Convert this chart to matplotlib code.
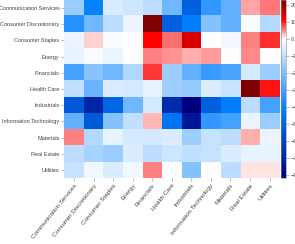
import numpy as np
import matplotlib
matplotlib.use("Agg")
import matplotlib.pyplot as plt
from matplotlib.colors import LinearSegmentedColormap, Normalize

plt.rcParams['font.family'] = ['Liberation Sans', 'DejaVu Sans']

sectors = ["Communication Services", "Consumer Discretionary", "Consumer Staples",
           "Energy", "Financials", "Health Care", "Industrials",
           "Information Technology", "Materials", "Real Estate", "Utilities"]

# one row per sector (rows top to bottom, columns left to right)
row_comm = [-16, -40, -6, -8, -11, -23, -51, -33, -25, 4, 6]
row_disc = [-35, -23, -11, -3, 23, -51, -41, -20, -25, -1, -12]
row_stap = [-3, 1.7, -1, 0, 11.5, 6.3, 14.5, 0, -2, 5.7, 9.2]
row_enrg = [-4, -1, -3, 0, 5.7, 4.6, 3.5, 4.4, 0, 5, 0]
row_fin = [-30, -19, -23, -13, 9, -15.6, -25, -32, -29, -7, -16]
row_hc = [-10, -24, -6, -7, -4, -15.6, -17, -6, -9, 23, 10.4]
row_ind = [-53, -70, -49, -23, -7, -68, -82, -51, -41, -11, -30]
row_it = [-25, -53, -20, -10, 3.2, -45, -74, -33, -30, -3, -16]
row_mat = [5.7, -12, -4, -7, -7, -6, -15.6, -9, -11, 3.5, -3]
row_re = [-11, -14, -16, -6, -11, -8, -10, -9, -6, -4, -4]
row_util = [-9, -2.5, -6, -2.5, 5.7, 0, -20, 0, -11, 1.2, 1]

data = np.array([row_comm, row_disc, row_stap, row_enrg, row_fin, row_hc,
                 row_ind, row_it, row_mat, row_re, row_util])

vmin, vmax = -82, 23
def pos(v):
    return (v - vmin) / (vmax - vmin)

cmap = LinearSegmentedColormap.from_list("custom", [
    (pos(-82), (0.0, 0.0, 0.5)),
    (pos(-41), (0.0, 0.5, 1.0)),
    (pos(0), (1.0, 1.0, 1.0)),
    (pos(11.5), (1.0, 0.0, 0.0)),
    (pos(23), (0.5, 0.0, 0.0)),
])

fig = plt.figure(figsize=(2.95, 2.44), dpi=100)
ax = fig.add_axes([0.218, 0.270, 0.729, 0.730])
cax = fig.add_axes([0.9525, 0.270, 0.017, 0.730])

im = ax.imshow(data, cmap=cmap, norm=Normalize(vmin, vmax), aspect='auto',
               interpolation='nearest')

ax.set_xticks(range(len(sectors)))
ax.set_yticks(range(len(sectors)))
ax.set_xticklabels(sectors, rotation=51, ha='right', rotation_mode='anchor',
                   fontsize=4.5, color='#444444')
ax.set_yticklabels(sectors, fontsize=4, color='#444444')
ax.tick_params(length=2, width=0.4, color='#888888', pad=1.5)
for s in ax.spines.values():
    s.set_visible(False)

cb = fig.colorbar(im, cax=cax)
cb.set_ticks(np.arange(-80, 21, 10))
cb.ax.tick_params(labelsize=4, length=2, width=0.4, color='#888888',
                  labelcolor='#444444', pad=1.5)
cb.outline.set_linewidth(0.4)
cb.outline.set_edgecolor('#888888')

fig.savefig("out.png", dpi=100)
